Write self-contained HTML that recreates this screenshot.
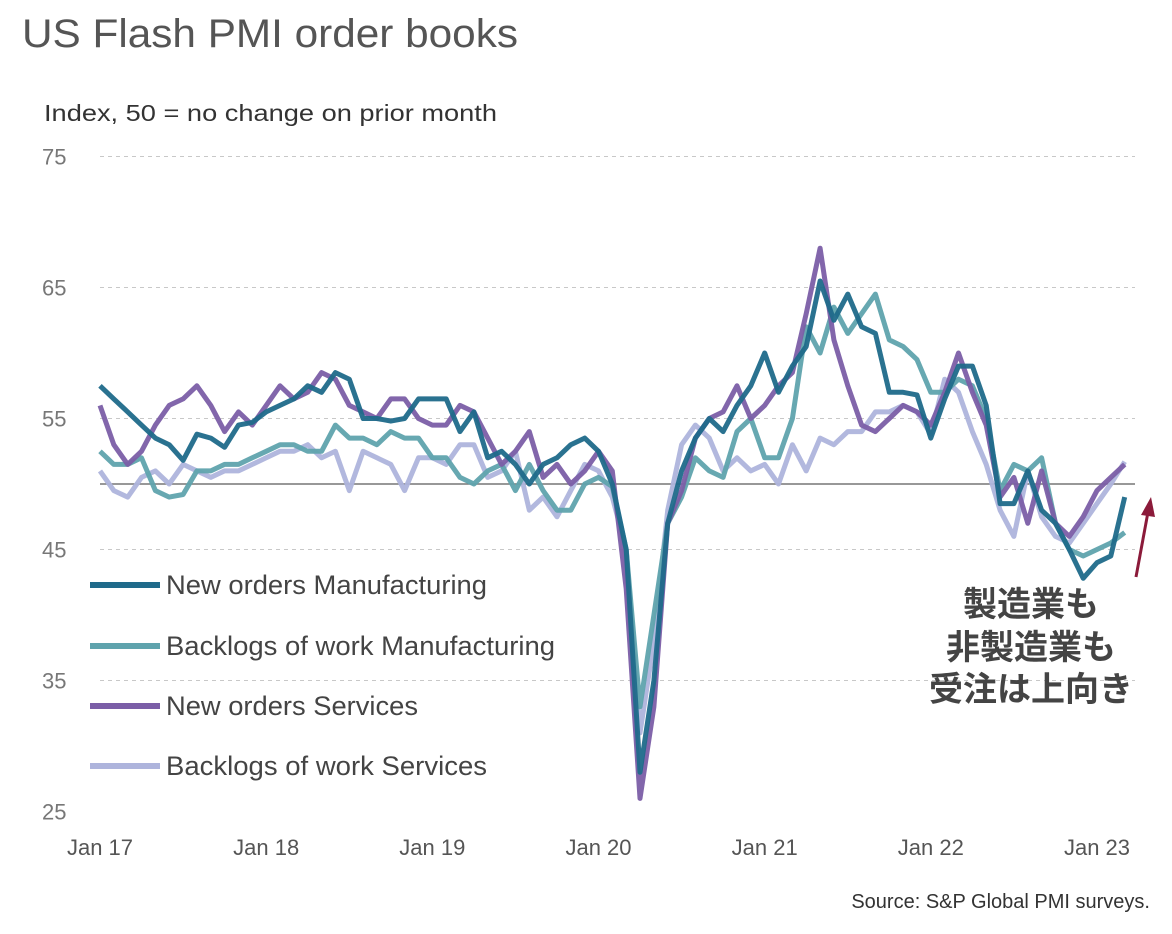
<!DOCTYPE html>
<html><head><meta charset="utf-8">
<style>
html,body{margin:0;padding:0;background:#fff;}
svg{display:block;}
text{font-family:"Liberation Sans","Noto Sans CJK JP",sans-serif;}
</style></head>
<body>
<svg id="chart" width="1172" height="934" viewBox="0 0 1172 934" xmlns="http://www.w3.org/2000/svg">
<text x="22" y="47" font-size="40" fill="#555" textLength="496" lengthAdjust="spacingAndGlyphs">US Flash PMI order books</text>
<text x="44" y="121" font-size="23" fill="#333" textLength="453" lengthAdjust="spacingAndGlyphs">Index, 50 = no change on prior month</text>
<g id="grid"></g>
<g id="series"></g>
<g id="legend"></g>
<text x="1031" y="616" font-size="34" font-weight="bold" fill="#444" text-anchor="middle">製造業も</text>
<text x="1031" y="659" font-size="34" font-weight="bold" fill="#444" text-anchor="middle">非製造業も</text>
<text x="1031" y="701" font-size="34" font-weight="bold" fill="#444" text-anchor="middle">受注は上向き</text>
<g>
<line x1="1136" y1="577" x2="1148" y2="512" stroke="#8b1a3a" stroke-width="3"/>
<polygon points="1151,497 1141,515 1155,517" fill="#8b1a3a"/>
</g>
<text x="1150" y="908" font-size="20" fill="#333" text-anchor="end">Source: S&amp;P Global PMI surveys.</text>
</svg>
<script>
const yTicks = [25, 35, 45, 55, 65, 75];
const xTickLabels = ["Jan 17","Jan 18","Jan 19","Jan 20","Jan 21","Jan 22","Jan 23"];
const seriesNames = ["New orders Manufacturing","Backlogs of work Manufacturing","New orders Services","Backlogs of work Services"];
const newOrdersMfg = [57.5,56.5,55.5,54.5,53.5,53,51.8,53.8,53.5,52.8,54.5,54.7,
 55.5,56,56.5,57.5,57,58.5,58,55,55,54.8,55,56.5,
 56.5,56.5,54,55.5,52,52.5,51.5,50,51.5,52,53,53.5,
 52.5,50,45,28,35,47,51,53.5,55,54,56,57.5,
 60,57,59,60.5,65.5,62.5,64.5,62,61.5,57,57,56.8,
 53.5,56.5,59,59,56,48.5,48.5,51,48,47,45,42.8,
 44,44.5,49];
const backlogsMfg = [52.5,51.5,51.5,52,49.5,49,49.2,51,51,51.5,51.5,52,
 52.5,53,53,52.5,52.5,54.5,53.5,53.5,53,54,53.5,53.5,
 52,52,50.5,50,51,51.5,49.5,51.5,49.5,48,48,50,
 50.5,49.8,45,33,40,47,49,52,51,50.5,54,55,
 52,52,55,62,60,63.5,61.5,63,64.5,61,60.5,59.5,
 57,57,58,57.5,55,49.5,51.5,51,52,47,45,44.5,
 45,45.5,46.3];
const newOrdersSvc = [56,53,51.5,52.5,54.5,56,56.5,57.5,56,54,55.5,54.5,
 56,57.5,56.5,57,58.5,58,56,55.5,55,56.5,56.5,55,
 54.5,54.5,56,55.5,53.5,51.5,52.5,54,50.5,51.5,50,51,
 52.5,51,42,26,33,47,49.5,53.5,55,55.5,57.5,55,
 56,57.5,58.5,63,68,61,57.5,54.5,54,55,56,55.5,
 54.5,57,60,57,54.5,49,50.5,47,51,47,46,47.5,
 49.5,50.5,51.5];
const backlogsSvc = [51,49.5,49,50.5,51,50,51.5,51,50.5,51,51,51.5,
 52,52.5,52.5,53,52,52.5,49.5,52.5,52,51.5,49.5,52,
 52,51.5,53,53,50.5,51,52.5,48,49,47.5,49.5,51.5,
 51,49,45,31,38,48,53,54.5,53.5,51,52,51,
 51.5,50,53,51,53.5,53,54,54,55.5,55.5,56,55.5,
 53.8,58,57,54,51.5,48,46,51,47.5,46,45.5,47,
 48.5,50,51.7];

const NS = "http://www.w3.org/2000/svg";
const colors = ["#1f6a8a","#5fa3ad","#7b5ea7","#aeb4dc"];
const legendWidths = [321, 389, 252, 321];
const allSeries = [newOrdersMfg, backlogsMfg, newOrdersSvc, backlogsSvc];
function yScale(v){ return 484 - (v - 50) * 13.1; }
function xScale(i){ return 100 + i * (997 / 72); }
function mk(tag, attrs, parent){ const e=document.createElementNS(NS,tag); for(const k in attrs) e.setAttribute(k,attrs[k]); parent.appendChild(e); return e; }

const grid = document.getElementById("grid");
yTicks.forEach(t => {
  const y = yScale(t);
  if (t !== 25) {
    const l = mk("line", {x1:100, x2:1135, y1:y, y2:y, stroke:"#c8c8c8", "stroke-width":1, "stroke-dasharray":"4,4"}, grid);
    
    
  }
  const tx = mk("text", {x:42, y:y+8, "font-size":22, fill:"#777"}, grid);
  tx.textContent = t;
  
  
});
const ref = mk("line", {x1:100, x2:1135, y1:yScale(50), y2:yScale(50), stroke:"#777", "stroke-width":1.5}, grid);


xTickLabels.forEach((lab, k) => {
  const tx = mk("text", {x:xScale(k*12), y:855, "font-size":22, fill:"#555", "text-anchor":"middle"}, grid);
  tx.textContent = lab;
  
  
});

const sg = document.getElementById("series");
[3,1,2,0].forEach(s => {
  const pts = allSeries[s].map((v,i) => xScale(i).toFixed(1)+","+yScale(v).toFixed(1)).join(" ");
  const p = mk("polyline", {points:pts, fill:"none", stroke:colors[s], "stroke-width":5, "stroke-linejoin":"round", opacity:0.95}, sg);
  
  
});

const lg = document.getElementById("legend");
const legendY = [585, 646, 706, 766];
seriesNames.forEach((n, s) => {
  const l = mk("line", {x1:90, x2:160, y1:legendY[s], y2:legendY[s], stroke:colors[s], "stroke-width":6}, lg);
  
  
  const t = mk("text", {x:166, y:legendY[s]+9, "font-size":27, fill:"#444", textLength:legendWidths[s], lengthAdjust:"spacingAndGlyphs"}, lg);
  t.textContent = n;
  
  
});
</script>
</body></html>
